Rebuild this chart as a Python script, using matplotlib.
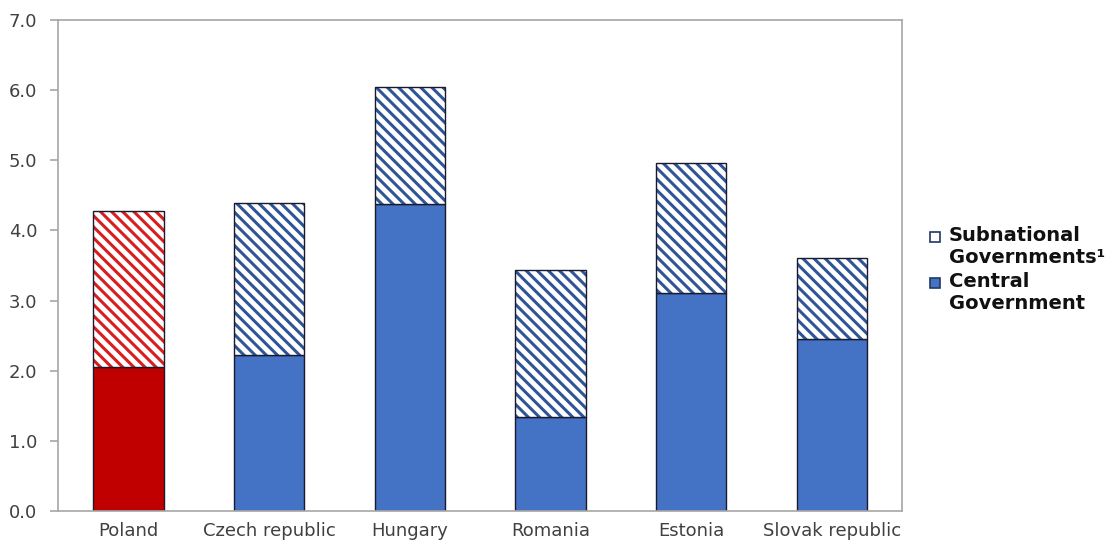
import matplotlib
matplotlib.use("Agg")
import matplotlib.pyplot as plt
from matplotlib.patches import Rectangle
import numpy as np

countries = ["Poland", "Czech republic", "Hungary", "Romania", "Estonia", "Slovak republic"]
central = [2.06, 2.23, 4.37, 1.34, 3.11, 2.45]
total = [4.28, 4.39, 6.05, 3.44, 4.96, 3.61]
subnational = [t - c for t, c in zip(total, central)]
yticks = [0.0, 1.0, 2.0, 3.0, 4.0, 5.0, 6.0, 7.0]
legend_labels = ["Subnational\nGovernments¹", "Central\nGovernment"]

plt.rcParams['hatch.linewidth'] = 2.2
plt.rcParams['font.family'] = ['DejaVu Sans']

W, H = 1115, 548
fig = plt.figure(figsize=(W / 100, H / 100), dpi=100)
ax = fig.add_axes([58/W, 37/H, 844/W, 491/H])

x = np.arange(len(countries))
red, red_h = "#C00000", "#D81E1E"
blue, blue_h = "#4472C4", "#2F5597"
fills = [red if i == 0 else blue for i in range(len(countries))]
hcols = [red_h if i == 0 else blue_h for i in range(len(countries))]

ax.bar(x, central, width=0.5, color=fills, edgecolor="#1a1a2e", linewidth=1.0, zorder=2)
ax.bar(x, subnational, bottom=central, width=0.5, color="white", edgecolor=hcols,
       hatch="\\\\\\", linewidth=0, zorder=2)
ax.bar(x, subnational, bottom=central, width=0.5, color="none", edgecolor="#1a1a2e",
       linewidth=1.0, zorder=3)

ax.set_xlim(-0.5, len(countries) - 0.5)
ax.set_ylim(0, 7)
ax.set_yticks(yticks)
ax.set_yticklabels([f"{v:.1f}" for v in yticks])
ax.set_xticks(x)
ax.set_xticklabels(countries)
ax.tick_params(axis='x', length=0, pad=8, labelsize=13, labelcolor="#404040")
ax.tick_params(axis='y', length=6, width=1.2, color="#A6A6A6", pad=9, labelsize=13, labelcolor="#404040")
for s in ax.spines.values():
    s.set_color("#A6A6A6")
    s.set_linewidth(1.2)

# legend drawn manually (marker aligned with first text line)
leg_face = ["white", blue]
leg_y = [237, 283]
for lab, fc, yy in zip(legend_labels, leg_face, leg_y):
    fig.patches.append(Rectangle((930 / W, 1 - (yy + 5) / H), 10 / W, 10 / H,
                                 transform=fig.transFigure, facecolor=fc,
                                 edgecolor="#203864", linewidth=1.2))
    fig.text(949 / W, 1 - (yy - 11) / H, lab, ha="left", va="top", fontsize=14,
             fontweight="bold", color="#111111", linespacing=1.2)

fig.savefig("out.png", dpi=100)
